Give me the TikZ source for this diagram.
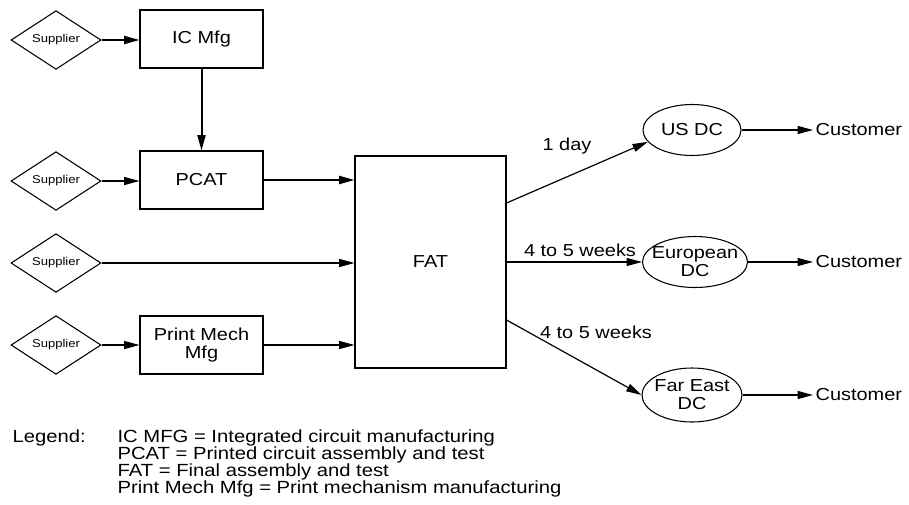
\documentclass[tikz,border=0pt]{standalone}
\usepackage{fontspec}
\setmainfont[FakeStretch=1.15]{Liberation Sans}
\usetikzlibrary{shapes.geometric,arrows.meta}
\begin{document}
\begin{tikzpicture}[x=0.75pt,y=-0.75pt,
  line width=0.9pt,
  sup/.style={diamond,draw,line width=0.8pt,minimum width=67.5pt,minimum height=44pt,inner sep=0pt,font=\fontsize{8.5}{10}\selectfont},
  box/.style={draw,line width=0.8pt,minimum width=92.25pt,minimum height=43.5pt,inner sep=0pt,align=center,font=\fontsize{13}{13.5}\selectfont},
  ell/.style={ellipse,draw,line width=0.8pt,inner sep=0pt},
  lbl/.style={inner sep=0pt,align=center,font=\fontsize{13}{13.5}\selectfont},
  leg/.style={inner sep=0pt,anchor=base west,font=\fontsize{13.2}{14}\selectfont},
  arr/.style={-{Triangle[length=11.5pt,width=6pt]}},
  thk/.style={line width=1.5pt}]
\useasboundingbox (0,0) rectangle (909,504);
% suppliers
\node[sup] (s1) at (56,40) {Supplier};
\node[sup] (s2) at (56,181) {Supplier};
\node[sup] (s3) at (56,263) {Supplier};
\node[sup] (s4) at (56,345) {Supplier};
% boxes
\node[box] (ic) at (201.5,39) {IC Mfg};
\node[box] (pcat) at (201.5,180) {PCAT};
\node[box] (pm) at (201.5,345) {Print Mech\\Mfg};
\node[box,minimum width=113.25pt,minimum height=159pt] (fat) at (430.5,262) {FAT};
% DCs
\node[ell,minimum width=73.5pt,minimum height=38.25pt] (us) at (692,130) {};
\node[lbl] (ust) at (us) {US DC};
\node[ell,minimum width=78.75pt,minimum height=38.25pt] (eu) at (695,262) {};
\node[lbl] (eut) at (eu) {European\\DC};
\node[ell,minimum width=75pt,minimum height=40.5pt] (fe) at (692,395) {};
\node[lbl] (fet) at (fe) {Far East\\DC};
% customers
\node[lbl,anchor=west,inner sep=1.5pt] (c1) at (813,130) {Customer};
\node[lbl,anchor=west,inner sep=1.5pt] (c2) at (813,262) {Customer};
\node[lbl,anchor=west,inner sep=1.5pt] (c3) at (813,395) {Customer};
% edge labels
\node[lbl] (l1) at (567,146) {1 day};
\node[lbl] (l2) at (580,250) {4 to 5 weeks};
\node[lbl] (l3) at (596,332) {4 to 5 weeks};
% connectors
\draw[arr,thk] (s1.east) -- (s1.east -| ic.west);
\draw[arr,thk] (ic) -- (pcat);
\draw[arr] (s2.east) -- (s2.east -| pcat.west);
\draw[arr,thk] (pcat.east) -- (pcat.east -| fat.west);
\draw[arr] (s3.east) -- (s3.east -| fat.west);
\draw[arr] (s4.east) -- (s4.east -| pm.west);
\draw[arr] (pm.east) -- (pm.east -| fat.west);
\draw[arr] ([yshift=44.25pt]fat.east) -- (us.195);
\draw[arr] (fat.east) -- (eu.west);
\draw[arr] ([yshift=-43.5pt]fat.east) -- (fe.west);
\draw[arr] (us.east) -- (c1.west);
\draw[arr] (eu.east) -- (c2.west);
\draw[arr] (fe.east) -- (c3.west);
% legend
\node[leg] (lg) at (12,442) {Legend:};
\node[leg] (lg1) at (117,442) {IC MFG = Integrated circuit manufacturing};
\node[leg] (lg2) at (117,459) {PCAT = Printed circuit assembly and test};
\node[leg] (lg3) at (117,476) {FAT = Final assembly and test};
\node[leg] (lg4) at (117,493) {Print Mech Mfg = Print mechanism manufacturing};
\end{tikzpicture}
\end{document}
